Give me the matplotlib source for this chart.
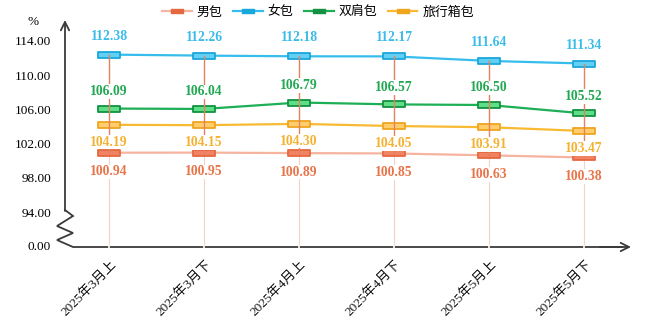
"""Bag price index chart (broken y axis)."""

import matplotlib
matplotlib.use("Agg")
import matplotlib.pyplot as plt
import numpy as np
from matplotlib.lines import Line2D
from matplotlib.path import Path

periods = ["2025年3月上", "2025年3月下", "2025年4月上", "2025年4月下", "2025年5月上", "2025年5月下"]
series_names = ["男包", "女包", "双肩包", "旅行箱包"]
men = [100.94, 100.95, 100.89, 100.85, 100.63, 100.38]
women = [112.38, 112.26, 112.18, 112.17, 111.64, 111.34]
backpack = [106.09, 106.04, 106.79, 106.57, 106.50, 105.52]
luggage = [104.19, 104.15, 104.30, 104.05, 103.91, 103.47]
tick_values = [0, 94, 98, 102, 106, 110, 114]
tick_labels = ["0.00", "94.00", "98.00", "102.00", "106.00", "110.00", "114.00"]

SERIF = ["Liberation Serif", "Noto Sans CJK SC"]
CJK = ["Noto Sans CJK SC", "DejaVu Sans"]

W, H = 649, 333
fig = plt.figure(figsize=(W / 100, H / 100), dpi=100)
# axes box in pixels: x 65..635, y 15..247
ax_left, ax_right, ax_top, ax_bottom = 65, 635, 15, 247
ax = fig.add_axes([ax_left / W, (H - ax_bottom) / H, (ax_right - ax_left) / W, (ax_bottom - ax_top) / H])

# scale: 4 units = 34.3 px ; 110 sits at pixel 75
ppu = 34.3 / 4
def px_to_val(py):
    return 110 - (py - 75) / ppu

ax.set_ylim(px_to_val(ax_bottom), px_to_val(ax_top))
ax.set_xlim(-(109 - ax_left) / 95, (ax_right - 109) / 95)
BREAK_POS = px_to_val(245)  # where 0.00 is drawn

def to_axis(v):
    return BREAK_POS if v == 0 else v

for s in ax.spines.values():
    s.set_visible(False)
ax.set_yticks([to_axis(v) for v in tick_values])
ax.set_yticklabels(tick_labels, family=SERIF, fontsize=9.5)
ax.tick_params(axis="y", length=0, pad=10)
ax.set_xticks([])

x = np.arange(len(periods))

def fx(px):
    return (px - ax_left) / (ax_right - ax_left)

def fy(py):
    return (ax_bottom - py) / (ax_bottom - ax_top)

axis_color = "#3a3a3a"
zig_px = [(65, 210), (73, 216), (57, 226), (73, 233), (57, 240), (73, 247), (622, 247)]
ax.plot([fx(p[0]) for p in zig_px], [fy(p[1]) for p in zig_px], transform=ax.transAxes,
        color=axis_color, lw=1.3, clip_on=False, zorder=2, solid_joinstyle="miter")
ax.annotate("", xy=(fx(631), fy(247)), xytext=(fx(600), fy(247)), xycoords="axes fraction",
            arrowprops=dict(arrowstyle="->,head_length=0.6,head_width=0.3", lw=1.3, color=axis_color,
                            shrinkA=0, shrinkB=0), annotation_clip=False)
ax.annotate("", xy=(fx(65), fy(20)), xytext=(fx(65), fy(211)), xycoords="axes fraction",
            arrowprops=dict(arrowstyle="->,head_length=0.6,head_width=0.3", lw=1.3, color=axis_color,
                            shrinkA=0, shrinkB=0), annotation_clip=False)
fig.text(33 / W, 1 - 22 / H, "%", ha="center", va="center", fontsize=9.5, family=SERIF)

# drop lines and high-low lines
bottom_val = px_to_val(ax_bottom)
for i in x:
    ax.plot([i, i], [bottom_val, men[i]], color="#f3d3c8", lw=0.8, zorder=1)
    ax.plot([i, i], [px_to_val(ax_bottom - 1.5), px_to_val(ax_bottom + 1.5)], color="white", lw=1.2,
            zorder=3, clip_on=False)
    ax.plot([i, i], [men[i], women[i]], color="#e3825f", lw=1.0, zorder=6)

rect = Path([(-1, -0.3), (1, -0.3), (1, 0.3), (-1, 0.3), (-1, -0.3)],
            [Path.MOVETO, Path.LINETO, Path.LINETO, Path.LINETO, Path.CLOSEPOLY])

# line colour, marker fill, marker edge, label colour, label offset (pt)
styles = [
    (men, "#f5b3a0", "#f08363", "#e5693f", "#e8744a", -13.8),
    (women, "#36bdec", "#62cff3", "#1aa7dc", "#3bbce8", 13.3),
    (backpack, "#1daf55", "#5fdd87", "#129242", "#22a852", 12.3),
    (luggage, "#f8b933", "#ffcd6e", "#efa520", "#f4b232", -12.5),
]
handles = []
for (vals, lc, mfc, mec, tc, off), name in zip(styles, series_names):
    ax.plot(x, vals, color=lc, lw=1.6, zorder=4, solid_capstyle="round")
    ax.plot(x, vals, ls="none", marker=rect, markersize=16, markerfacecolor=mfc,
            markeredgecolor=mec, markeredgewidth=1.3, zorder=5)
    for i, v in enumerate(vals):
        ax.annotate(f"{v:.2f}", xy=(i, v), xytext=(0, off), textcoords="offset points",
                    ha="center", va="center", fontsize=9.8, fontweight="bold", family=SERIF, color=tc,
                    zorder=7, bbox=dict(boxstyle="square,pad=0.05", fc="white", ec="none"))
    handles.append(Line2D([], [], color=lc, lw=1.6, marker=rect, markersize=8,
                          markerfacecolor=mec, markeredgecolor=mec))

leg = fig.legend(handles, series_names, loc="center", bbox_to_anchor=(318 / W, 1 - 12 / H), ncol=4,
                 frameon=False, prop={"family": CJK, "size": 9.3}, handlelength=2.3,
                 handletextpad=0.4, columnspacing=0.8, borderpad=0)

for i, lab in enumerate(periods):
    ax.annotate(lab, xy=(i, bottom_val), xytext=(7, -8), textcoords="offset points",
                rotation=45, ha="right", va="top", fontsize=9.5, family=SERIF, color="#111111",
                annotation_clip=False)

fig.savefig("out.png", dpi=100)
